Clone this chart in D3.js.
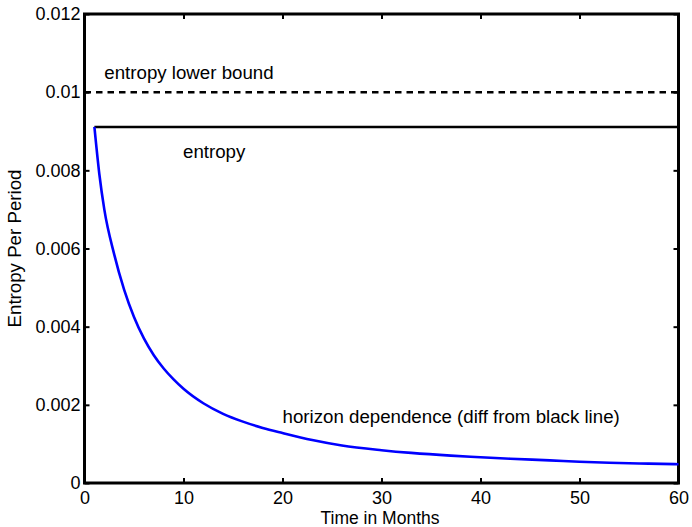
<!DOCTYPE html>
<html>
<head>
<meta charset="utf-8">
<script src="https://cdn.jsdelivr.net/npm/d3@7"></script>
<style>
  html, body { margin: 0; padding: 0; background: #fff; }
  svg { display: block; font-family: "Liberation Sans", Arial, Helvetica, sans-serif; }
  .axis path { display: none; }
  .axis line { stroke: #000; stroke-width: 2; }
  .axis text { font-size: 18px; fill: #000; }
</style>
</head>
<body>
<svg id="chart" width="692" height="527"></svg>
<script>
// months and the horizon dependence values
var months = [1, 1.5, 2, 3, 4, 5, 6, 7, 8, 9, 10, 12, 14, 16, 18, 20, 23, 26, 30, 33, 37, 40, 43, 47, 50, 53, 57, 60];
var horizon = [0.00911, 0.00790, 0.00700, 0.00585, 0.00495, 0.00425, 0.00370, 0.00327, 0.00293, 0.00265, 0.00241,
  0.00204, 0.00177, 0.00157, 0.00141, 0.00128, 0.00110, 0.00096, 0.00084, 0.00077, 0.00070, 0.00066,
  0.00062, 0.00058, 0.000545, 0.000518, 0.000495, 0.00048];
var entropyMonths = [1, 60];
var entropyLevel = [0.00911, 0.00911];
var boundMonths = [0, 60];
var boundLevel = [0.01, 0.01];
var xTicks = [0, 10, 20, 30, 40, 50, 60];
var yTicks = [0, 0.002, 0.004, 0.006, 0.008, 0.01, 0.012];
var labels = [
  { text: "entropy lower bound", m: 2, v: 0.01034 },
  { text: "entropy", m: 9.95, v: 0.00832 },
  { text: "horizon dependence (diff from black line)", m: 20, v: 0.00154 }
];

var svg = d3.select('#chart');
var L = 84.5, R = 678.5, T = 14, B = 483;

var x = d3.scaleLinear().domain([0, 60]).range([L, R]);
var y = d3.scaleLinear().domain([0, 0.012]).range([B, T]);

var fmt = function(d){ return String(d); };

svg.append('g').attr('class', 'axis')
  .attr('transform', 'translate(0,' + B + ')')
  .call(d3.axisBottom(x).tickValues(xTicks).tickSizeInner(-5).tickSizeOuter(0).tickPadding(8).tickFormat(fmt));
svg.append('g').attr('class', 'axis')
  .attr('transform', 'translate(0,' + T + ')')
  .call(d3.axisTop(x).tickValues(xTicks).tickSizeInner(-5).tickSizeOuter(0).tickFormat(''));
svg.append('g').attr('class', 'axis')
  .attr('transform', 'translate(' + L + ',0)')
  .call(d3.axisLeft(y).tickValues(yTicks).tickSizeInner(-5).tickSizeOuter(0).tickPadding(4).tickFormat(fmt));
svg.append('g').attr('class', 'axis')
  .attr('transform', 'translate(' + R + ',0)')
  .call(d3.axisRight(y).tickValues(yTicks).tickSizeInner(-5).tickSizeOuter(0).tickFormat(''));

// box
svg.append('rect')
  .attr('x', L).attr('y', T).attr('width', R - L).attr('height', B - T)
  .attr('fill', 'none').attr('stroke', '#000').attr('stroke-width', 3);

var line = d3.line().x(function(d){ return x(d[0]); }).y(function(d){ return y(d[1]); });

svg.append('path')
  .datum(d3.zip(boundMonths, boundLevel))
  .attr('d', line).attr('fill', 'none').attr('stroke', '#000')
  .attr('stroke-width', 2.5).attr('stroke-dasharray', '6.5,5');

svg.append('path')
  .datum(d3.zip(entropyMonths, entropyLevel))
  .attr('d', line).attr('fill', 'none').attr('stroke', '#000').attr('stroke-width', 2.6);

svg.append('path')
  .datum(d3.zip(months, horizon))
  .attr('d', line.curve(d3.curveMonotoneX)).attr('fill', 'none').attr('stroke', '#0000ff').attr('stroke-width', 2.6);

svg.selectAll('text.lbl').data(labels).enter().append('text')
  .attr('class', 'lbl')
  .attr('x', function(d){ return x(d.m); })
  .attr('y', function(d){ return y(d.v); })
  .attr('font-size', 18.7)
  .text(function(d){ return d.text; });

svg.append('text')
  .attr('x', 380).attr('y', 523.5)
  .attr('text-anchor', 'middle').attr('font-size', 17.5)
  .text('Time in Months');

svg.append('text')
  .attr('transform', 'translate(21,' + ((T + B) / 2) + ') rotate(-90)')
  .attr('text-anchor', 'middle').attr('font-size', 18.7)
  .text('Entropy Per Period');
</script>
</body>
</html>
